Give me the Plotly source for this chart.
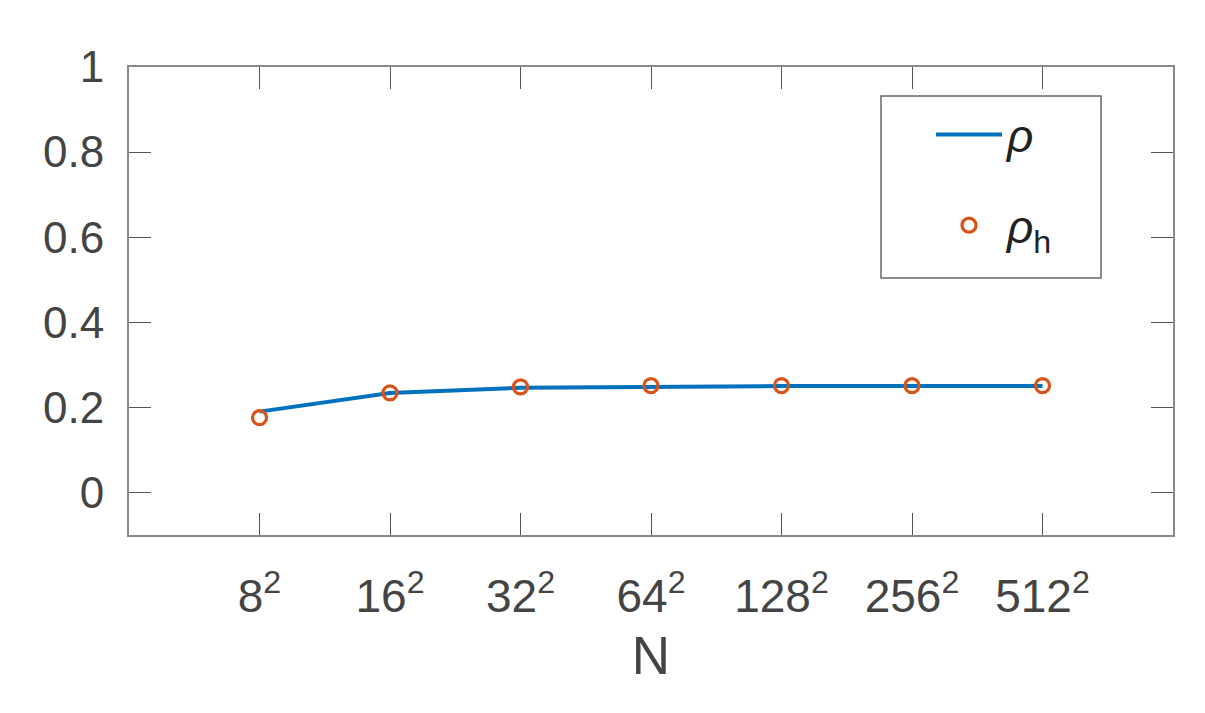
import plotly.graph_objects as go

bases = ["8", "16", "32", "64", "128", "256", "512"]
categories = [b + "<sup>2</sup>" for b in bases]
x_index = [1, 2, 3, 4, 5, 6, 7]
rho = [0.190, 0.234, 0.246, 0.249, 0.250, 0.250, 0.250]
rho_h = [0.176, 0.234, 0.248, 0.251, 0.251, 0.251, 0.251]
y_ticks = [0, 0.2, 0.4, 0.6, 0.8, 1]
y_tick_text = ["0", "0.2", "0.4", "0.6", "0.8", "1"]

FONT = "Liberation Sans, Arial, Helvetica, sans-serif"
TXT = "#444444"
AX = "#8a8a8a"

fig = go.Figure()
fig.add_trace(go.Scatter(
    x=x_index, y=rho, mode="lines", name="<i>ρ</i>",
    line=dict(color="#0072BD", width=4), legendgroup="a"))
fig.add_trace(go.Scatter(
    x=x_index, y=rho_h, mode="markers", name="<i>ρ</i><sub>h</sub>",
    marker=dict(symbol="circle-open", size=14, color="#D95319",
                line=dict(width=3.2, color="#D95319")), legendgroup="b"))

# legend frame (box drawn as a paper-referenced rectangle)
fig.add_shape(type="rect", xref="paper", yref="paper",
              x0=(881 - 129) / 1044, x1=(1101 - 129) / 1044,
              y0=(535 - 278) / 468, y1=(535 - 96) / 468,
              line=dict(color="#666666", width=1.5), fillcolor="rgba(0,0,0,0)",
              layer="above")

fig.update_layout(
    width=1205, height=713,
    margin=dict(l=129, r=32, t=67, b=178),
    paper_bgcolor="white", plot_bgcolor="white",
    font=dict(family=FONT, color=TXT, size=44),
    showlegend=True,
    legend=dict(x=(931 - 129) / 1044, y=(535 - 98) / 468,
                xanchor="left", yanchor="top",
                borderwidth=0, bgcolor="rgba(0,0,0,0)",
                font=dict(size=46, color="#222222"),
                tracegroupgap=28, itemwidth=66),
)
fig.update_xaxes(
    range=[0, 8], tickmode="array", tickvals=x_index, ticktext=categories,
    ticks="inside", ticklen=22, tickwidth=1, tickcolor="#555555",
    showline=True, linecolor=AX, linewidth=2, mirror="ticks",
    showgrid=False, zeroline=False,
    tickfont=dict(size=46, color=TXT),
    title=dict(text="N", font=dict(size=53, color=TXT), standoff=16),
    ticklabelstandoff=20,
)
fig.update_yaxes(
    range=[-0.1, 1], tickmode="array", tickvals=y_ticks, ticktext=y_tick_text,
    ticks="inside", ticklen=22, tickwidth=1, tickcolor="#555555",
    showline=True, linecolor=AX, linewidth=2, mirror="ticks",
    showgrid=False, zeroline=False,
    tickfont=dict(size=44, color=TXT),
    ticklabelstandoff=14,
)

fig.write_html("out.html")
